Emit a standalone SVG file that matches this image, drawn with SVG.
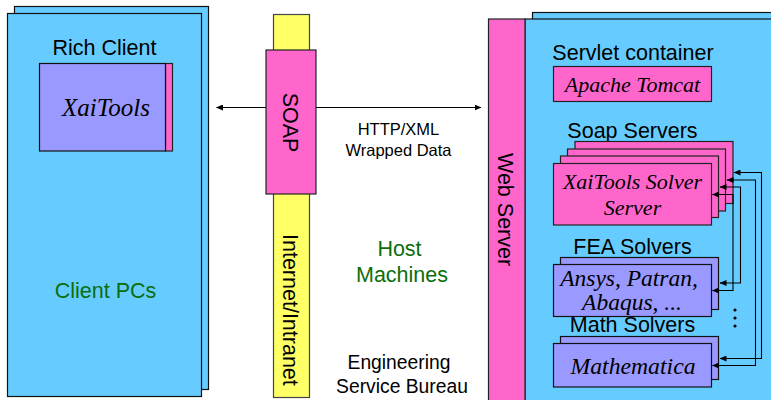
<svg xmlns="http://www.w3.org/2000/svg" width="771" height="400" viewBox="0 0 771 400">
<style>
.b{fill:#66ccff;stroke:#111;stroke-width:1.200}
.p{fill:#ff66cc;stroke:#222;stroke-width:1.200}
.v{fill:#9999ff;stroke:#111;stroke-width:1.200}
.y{fill:#ffff66;stroke:#444;stroke-width:1.200}
.s{font-family:"Liberation Sans",Arial,sans-serif;fill:#000;text-anchor:middle;font-size:21.500px}
.i{font-family:"Liberation Serif","Times New Roman",serif;font-style:italic;fill:#000;text-anchor:middle}
.g{fill:#0b6e0b}
.c{fill:none;stroke:#000;stroke-width:1.100}
.t{text-anchor:start}
</style>
<defs><marker id="a" markerUnits="userSpaceOnUse" markerWidth="8" markerHeight="6" refX="6.500" refY="3" orient="auto-start-reverse"><path d="M0 0L7 3L0 6Z" fill="#000"/></marker></defs>
<g id="client-pcs">
<rect class="b" x="14.500" y="6.500" width="194" height="383"/>
<rect class="b" x="7.500" y="13.500" width="194" height="383"/>
<text class="s" x="104.500" y="55">Rich Client</text>
<text class="s g" x="105.500" y="298">Client PCs</text>
</g>
<g id="xaitools">
<rect class="p" x="165.500" y="63.500" width="7" height="87.500"/>
<rect class="v" x="39.500" y="63.500" width="126" height="87.500"/>
<text class="i" x="106" y="116" font-size="25">XaiTools</text>
</g>
<g id="internet">
<rect class="y" x="273.500" y="14.500" width="36" height="383"/>
<text class="s t" transform="translate(283,234) rotate(90)" font-size="21.500">Internet/Intranet</text>
</g>
<g id="connectors">
<path class="c" marker-start="url(#a)" d="M216.500 107.500H266"/>
<path class="c" marker-end="url(#a)" d="M316 107.500H481"/>
<path class="c" marker-start="url(#a)" marker-end="url(#a)" d="M720.500 88.500C735 88 747 88 751 102C755 114 748 120 720.500 123"/>
</g>
<g id="soap">
<rect class="p" x="266" y="50" width="50" height="144"/>
<text class="s" transform="translate(283,122.500) rotate(90)">SOAP</text>
</g>
<g id="labels">
<text class="s" x="398.500" y="135" style="font-size:16.500px">HTTP/XML</text>
<text class="s" x="398.500" y="155.500" style="font-size:16.500px">Wrapped Data</text>
<text class="s g" x="399.500" y="256">Host</text>
<text class="s g" x="402" y="281.500">Machines</text>
<text class="s" x="399" y="369" style="font-size:19.300px">Engineering</text>
<text class="s" x="402" y="393" style="font-size:19.300px">Service Bureau</text>
</g>
<g id="host">
<rect class="b" x="532.500" y="12.500" width="260" height="400"/>
<rect class="b" x="525" y="19" width="260" height="400"/>
</g>
<g id="web-server">
<rect class="p" x="488.500" y="19" width="36.500" height="400"/>
<text class="s t" transform="translate(498,153) rotate(90)">Web Server</text>
</g>
<g id="tomcat">
<text class="s" x="633" y="59.500">Servlet container</text>
<rect class="p" x="553.500" y="66.500" width="158" height="35"/>
<text class="i" x="632.500" y="92" font-size="22">Apache Tomcat</text>
</g>
<g id="soap-servers">
<text class="s" x="632.500" y="138">Soap Servers</text>
<rect class="p" x="575" y="141.500" width="158" height="62"/>
<rect class="p" x="567.500" y="149" width="158" height="62"/>
<rect class="p" x="560.500" y="156" width="158" height="61.500"/>
<rect class="p" x="553.500" y="163.500" width="158" height="61.500"/>
<text class="i" x="632.500" y="189" font-size="22">XaiTools Solver</text>
<text class="i" x="632.500" y="215" font-size="22">Server</text>
</g>
<g id="fea-solvers">
<text class="s" x="632.500" y="253.500">FEA Solvers</text>
<rect class="v" x="560.500" y="257.500" width="158" height="52"/>
<rect class="v" x="553.500" y="264.500" width="158" height="52"/>
<text class="i" x="629" y="286" font-size="23.500">Ansys, Patran,</text>
<text class="i" x="632" y="310" font-size="23.500">Abaqus, ...</text>
</g>
<g id="math-solvers">
<text class="s" x="632.500" y="332">Math Solvers</text>
<rect class="v" x="560.500" y="336.500" width="158" height="43"/>
<rect class="v" x="553.500" y="343.500" width="158" height="43.500"/>
<text class="i" x="633" y="374" font-size="23.700">Mathematica</text>
</g>
<g id="solver-links">
<path class="c" marker-start="url(#a)" marker-end="url(#a)" d="M734 172.500H761.500V358.500H720"/>
<path class="c" marker-start="url(#a)" marker-end="url(#a)" d="M727 180H755.500V365.500H712.500"/>
<path class="c" marker-start="url(#a)" marker-end="url(#a)" d="M720 187H740.500V283H720"/>
<path class="c" marker-start="url(#a)" marker-end="url(#a)" d="M712.500 194.500H733V290.500H712.500"/>
<circle cx="735" cy="310" r="1.600"/><circle cx="735" cy="318" r="1.600"/><circle cx="735" cy="326" r="1.600"/>
</g>
</svg>
